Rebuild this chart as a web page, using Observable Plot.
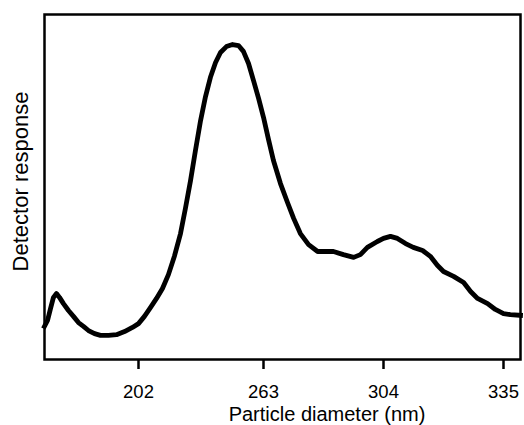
<!DOCTYPE html>
<html>
<head>
<meta charset="utf-8">
<script src="https://cdn.jsdelivr.net/npm/d3@7"></script>
<script src="https://cdn.jsdelivr.net/npm/@observablehq/plot@0.6"></script>
<style>
  html, body { margin: 0; padding: 0; background: #fff; }
</style>
</head>
<body>
<div id="chart"></div>
<script>
// Particle diameter (nm) along the fractogram
const diameter = [
  140.0, 142.0, 144.0, 145.9, 147.9, 149.9, 152.5, 155.8, 159.1, 162.4,
  165.7, 169.0, 173.0, 176.9, 182.2, 187.5, 192.8, 198.0, 202.0,
  204.9, 207.9, 210.8, 213.7, 216.6, 219.6, 222.5, 224.9, 227.4, 229.8,
  232.3, 234.7, 237.1, 239.6, 242.0, 244.9, 247.9, 250.8, 253.2, 255.7,
  258.1, 260.6, 263.0,
  264.7, 266.4, 268.8, 271.2, 273.3, 275.6, 278.4, 281.5, 284.2, 286.9,
  290.3, 293.8, 296.1, 298.5, 301.9, 304.0,
  305.8, 307.6, 309.7, 311.7, 314.1, 316.1, 317.9, 319.5, 322.1, 324.7,
  326.5, 328.3, 330.9, 332.9, 335.0, 336.2, 338.0
];
// Detector response (arbitrary units)
const response = [
  9.6, 11.3, 14.8, 18.0, 19.1, 18.0, 16.2, 14.2, 12.5, 10.7,
  9.6, 8.4, 7.5, 7.0, 7.0, 7.2, 8.1, 9.3, 10.4,
  12.5, 15.1, 17.7, 20.6, 24.6, 30.1, 36.5, 43.8, 51.9, 60.6,
  69.3, 76.2, 81.8, 86.1, 89.0, 90.7, 91.3, 91.0, 89.3, 85.8,
  80.9, 75.7, 70.2,
  63.8, 57.7, 51.0, 45.5, 40.9, 36.5, 33.3, 31.3, 31.3, 31.3,
  30.4, 29.6, 30.4, 32.5, 34.2, 35.1,
  35.7, 35.1, 33.6, 32.5, 31.6, 29.9, 27.3, 25.5, 24.1, 22.3,
  19.7, 17.7, 16.2, 14.5, 13.3, 13.0, 12.8
];
// Axis tick labels (nm)
const tickValues = [202, 263, 304, 335];
// Axis breakpoints of the non-linear diameter axis
const axisBreaks = [140, 202, 263, 304, 335, 338];
const xTitle = "Particle diameter (nm)";
const yTitle = "Detector response";

const data = diameter.map((d, i) => ({d, r: response[i]}));

const chart = Plot.plot({
  width: 524,
  height: 425,
  marginLeft: 44,
  marginRight: 4,
  marginTop: 14,
  marginBottom: 66,
  style: {fontFamily: "'Liberation Sans', Arial, sans-serif", background: "#fff", color: "#000"},
  x: {type: "linear", domain: axisBreaks, range: [44, 138, 263, 383, 503, 520]},
  y: {domain: [0, 100], axis: null},
  marks: [
    Plot.frame({stroke: "#000", strokeWidth: 2.5}),
    Plot.axisX({ticks: tickValues, tickFormat: d => String(d), tickSize: 10, tickPadding: 15,
                strokeWidth: 2.5, fontSize: 18.5, label: null}),
    Plot.line(data, {x: "d", y: "r", stroke: "#000", strokeWidth: 4.8, strokeLinejoin: "round", strokeLinecap: "square"}),
    Plot.text([xTitle], {frameAnchor: "bottom", text: d => d, dx: 44.5, dy: 47, lineAnchor: "top",
                         textAnchor: "middle", fontSize: 20, fill: "#000"}),
    Plot.text([yTitle], {frameAnchor: "left", text: d => d, rotate: -90, dx: -32, dy: -5.5, lineAnchor: "top",
                         textAnchor: "middle", fontSize: 22, fill: "#000"})
  ]
});
document.getElementById("chart").appendChild(chart);
</script>
</body>
</html>
